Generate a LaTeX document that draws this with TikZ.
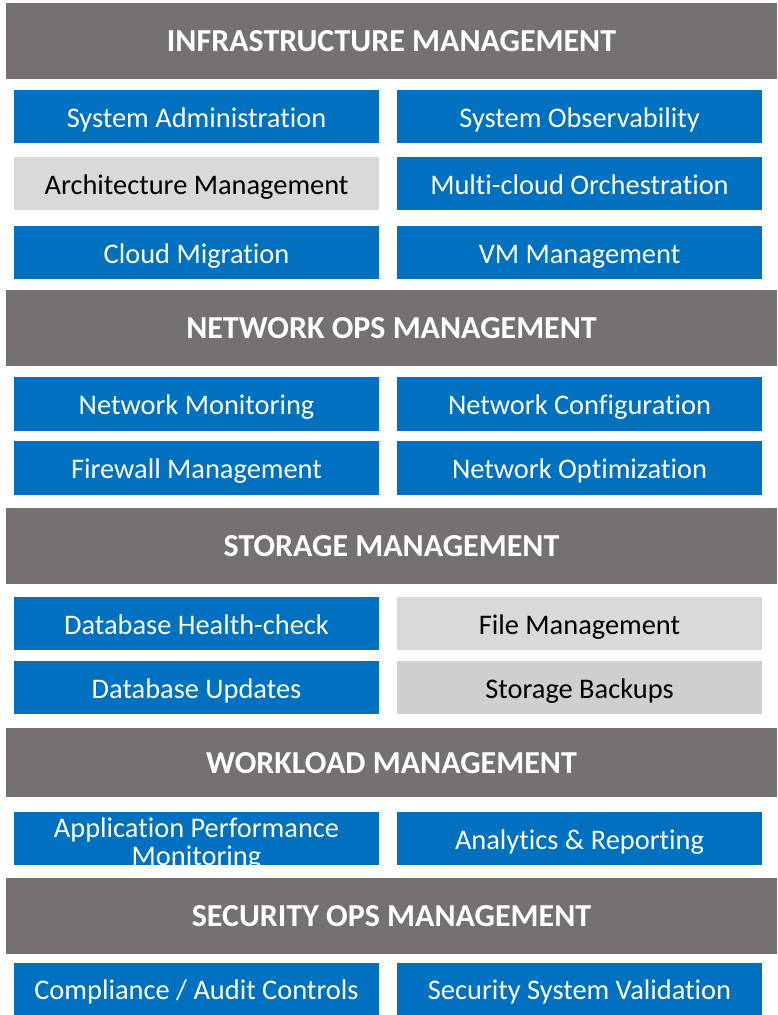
\documentclass[tikz,border=0pt]{standalone}
\usepackage{fontspec}
\setmainfont{Carlito}[Ligatures=NoCommon]
\begin{document}
\begin{tikzpicture}[x=1pt,y=-1pt,
  hdrbox/.style={fill=hdrgray, draw=none, inner sep=0pt, minimum width=771pt,
    text=white, font=\fontsize{32}{32}\selectfont\bfseries, text height=21.5pt, text depth=0pt},
  cellbox/.style={draw=none, inner sep=0pt, minimum width=365pt,
    font=\fontsize{28.4}{28}\selectfont, text height=21pt, text depth=0pt},
  bluecell/.style={cellbox, fill=cellblue, text=white},
  greycell/.style={cellbox, fill=cellgrey, text=black},
  greycelldark/.style={cellbox, fill=cellgreydark, text=black}]
\definecolor{hdrgray}{HTML}{767171}
\definecolor{cellblue}{HTML}{0070C0}
\definecolor{cellgrey}{HTML}{D9D9D9}
\definecolor{cellgreydark}{HTML}{D0CECE}
\useasboundingbox (0,0) rectangle (778,1015);
\fill[white] (0,0) rectangle (778,1015);

% Infrastructure
\node[hdrbox, minimum height=76pt] (h1) at (391.5,41) {INFRASTRUCTURE MANAGEMENT};
\node[bluecell, minimum height=53pt] (sa) at (196.5,116.5) {System Administration};
\node[bluecell, minimum height=53pt] (so) at (579.5,116.5) {System Observability};
\node[greycell, minimum height=53pt] (am) at (196.5,183.5) {Architecture Management};
\node[bluecell, minimum height=53pt] (mc) at (579.5,183.5) {Multi-cloud Orchestration};
\node[bluecell, minimum height=53pt] (cm) at (196.5,252.5) {Cloud Migration};
\node[bluecell, minimum height=53pt] (vm) at (579.5,252.5) {VM Management};

% Network ops
\node[hdrbox, minimum height=76pt] (h2) at (391.5,328) {NETWORK OPS MANAGEMENT};
\node[bluecell, minimum height=54pt] (nm) at (196.5,404) {Network Monitoring};
\node[bluecell, minimum height=54pt] (nc) at (579.5,404) {Network Configuration};
\node[bluecell, minimum height=54pt] (fw) at (196.5,468) {Firewall Management};
\node[bluecell, minimum height=54pt] (no) at (579.5,468) {Network Optimization};

% Storage
\node[hdrbox, minimum height=76pt] (h3) at (391.5,546) {STORAGE MANAGEMENT};
\node[bluecell, minimum height=53pt] (dh) at (196.5,623.5) {Database Health-check};
\node[greycell, minimum height=53pt] (fm) at (579.5,623.5) {File Management};
\node[bluecell, minimum height=53pt] (du) at (196.5,687.5) {Database Updates};
\node[greycelldark, minimum height=53pt] (sb) at (579.5,687.5) {Storage Backups};

% Workload
\node[hdrbox, minimum height=69pt] (h4) at (391.5,762.5) {WORKLOAD MANAGEMENT};
\begin{scope}
  % the two-line label overflows its box and is cut at the box edge
  \clip (14,812) rectangle (379,865);
  \node[bluecell, minimum height=53pt, text height=53pt, align=center] (ap) at (196.5,838.5)
    {Application Performance\\Monitoring};
\end{scope}
\node[bluecell, minimum height=53pt] (ar) at (579.5,838.5) {Analytics \& Reporting};

% Security ops
\node[hdrbox, minimum height=76pt] (h5) at (391.5,916) {SECURITY OPS MANAGEMENT};
\node[bluecell, minimum height=52pt] (ca) at (196.5,989) {Compliance / Audit Controls};
\node[bluecell, minimum height=52pt] (sv) at (579.5,989) {Security System Validation};
\end{tikzpicture}
\end{document}
